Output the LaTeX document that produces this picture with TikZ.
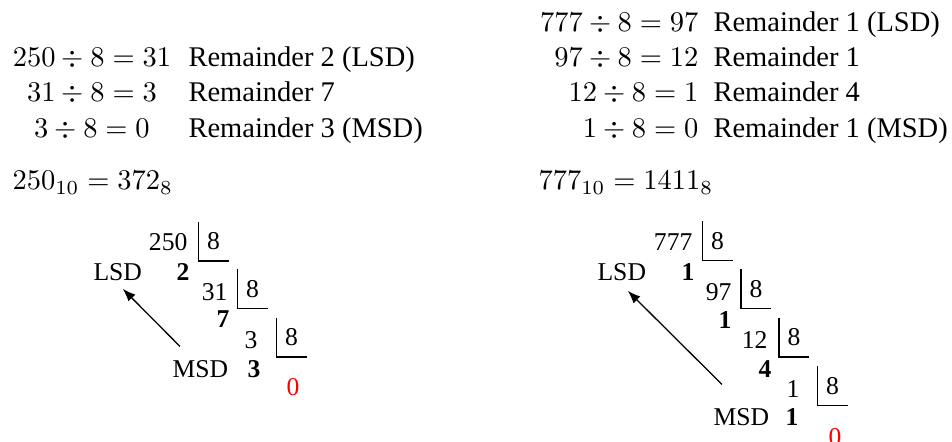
\documentclass[tikz,border=0pt]{standalone}
\usepackage[no-math]{fontspec}
\setmainfont{Liberation Serif}
\usetikzlibrary{arrows.meta,calc}

\begin{document}
\begin{tikzpicture}[
  x=0.351pt, y=-0.351pt,
  >=Latex,
  every node/.style={inner sep=0pt},
  eqn/.style={anchor=base},
  remtext/.style={anchor=base west},
  small/.style={font=\fontsize{9}{11}\selectfont},
  dividend/.style={small,anchor=base east},
  remdigit/.style={font=\fontsize{9}{11}\selectfont\bfseries,anchor=base},
  divisor/.style={small,minimum width=10.2pt,minimum height=13.3pt},
  endzero/.style={small,text=red,anchor=base},
  side/.style={small,anchor=base west},
  bar/.style={line width=0.45pt},
  flow/.style={-{Latex[length=4.5pt,width=3.4pt]},line width=0.45pt}
]
  \useasboundingbox (0,0) rectangle (952,442);

  % 250 in octal
  \node[eqn] (eqA1) at (92,67) {$250 \div 8 = 31$};
  \node[eqn] (eqA2) at (92,102) {$31 \div 8 = 3$};
  \node[eqn] (eqA3) at (92,137) {$3 \div 8 = 0$};
  \node[remtext] (remA1) at (188,67) {Remainder 2 (LSD)};
  \node[remtext] (remA2) at (188,102) {Remainder 7};
  \node[remtext] (remA3) at (188,137) {Remainder 3 (MSD)};
  \node[anchor=base west] (resA) at (12,190) {$250_{10} = 372_8$};

  % 777 in octal
  \node[anchor=base east] (eqB1) at (699,32) {$777 \div 8 = 97$};
  \node[anchor=base east] (eqB2) at (699,67) {$97 \div 8 = 12$};
  \node[anchor=base east] (eqB3) at (699,102) {$12 \div 8 = 1$};
  \node[anchor=base east] (eqB4) at (699,137) {$1 \div 8 = 0$};
  \node[remtext] (remB1) at (713,32) {Remainder 1 (LSD)};
  \node[remtext] (remB2) at (713,67) {Remainder 1};
  \node[remtext] (remB3) at (713,102) {Remainder 4};
  \node[remtext] (remB4) at (713,137) {Remainder 1 (MSD)};
  \node[anchor=base west] (resB) at (538,190) {$777_{10} = 1411_8$};

  % ladder for 250
  \node[dividend] (nA1) at (188,250) {250};
  \node[divisor] (dvA1) at (213.5,241.5) {8};
  \node[dividend] (nA2) at (228,300) {31};
  \node[divisor] (dvA2) at (252.5,289) {8};
  \node[dividend] (nA3) at (258,348) {3};
  \node[divisor] (dvA3) at (291.5,337.5) {8};
  \node[remdigit] (rA1) at (183,280) {2};
  \node[remdigit] (rA2) at (223,327) {7};
  \node[remdigit] (rA3) at (254,377) {3};
  \node[endzero] (zA) at (293,395) {0};
  \node[side] (lsdA) at (93,280) {LSD};
  \node[side] (msdA) at (172,377) {MSD};
  \draw[bar] (dvA1.north west) |- (dvA1.south east);
  \draw[bar] (dvA2.north west) |- (dvA2.south east);
  \draw[bar] (dvA3.north west) |- (dvA3.south east);
  \draw[flow] ($(msdA.north west)+(8,-13)$) -- ($(lsdA.south)+(5,8)$);

  % ladder for 777
  \node[dividend] (nB1) at (693,250) {777};
  \node[divisor] (dvB1) at (717.5,241) {8};
  \node[dividend] (nB2) at (732,300) {97};
  \node[divisor] (dvB2) at (756,289) {8};
  \node[dividend] (nB3) at (768,348) {12};
  \node[divisor] (dvB3) at (794,337.5) {8};
  \node[dividend] (nB4) at (800,397) {1};
  \node[divisor] (dvB4) at (832.5,386) {8};
  \node[remdigit] (rB1) at (688,280) {1};
  \node[remdigit] (rB2) at (725,328) {1};
  \node[remdigit] (rB3) at (765,377) {4};
  \node[remdigit] (rB4) at (792,425) {1};
  \node[endzero] (zB) at (835,445) {0};
  \node[side] (lsdB) at (597,280) {LSD};
  \node[side] (msdB) at (713,425) {MSD};
  \draw[bar] (dvB1.north west) |- (dvB1.south east);
  \draw[bar] (dvB2.north west) |- (dvB2.south east);
  \draw[bar] (dvB3.north west) |- (dvB3.south east);
  \draw[bar] (dvB4.north west) |- (dvB4.south east);
  \draw[flow] ($(msdB.north west)+(9,-23)$) -- ($(lsdB.south)+(6,10)$);
\end{tikzpicture}
\end{document}
